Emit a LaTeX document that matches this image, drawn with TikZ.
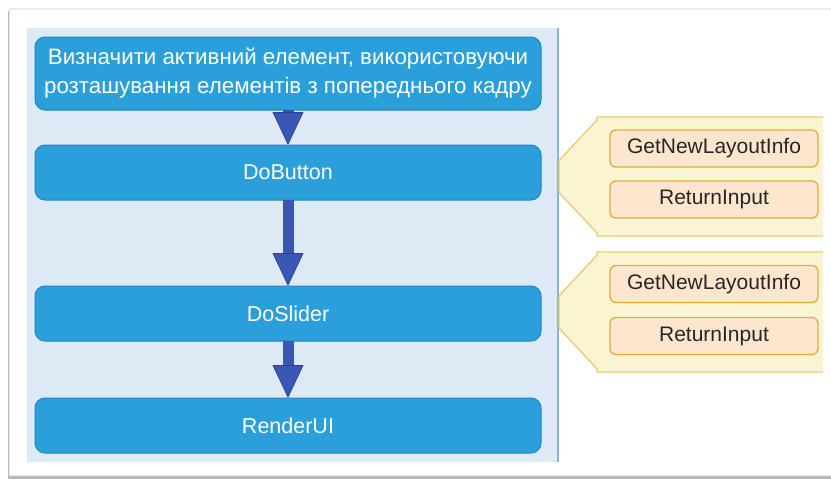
\documentclass[tikz,border=0pt]{standalone}
\usepackage{fontspec}
\setmainfont{Liberation Sans}
\usetikzlibrary{positioning,arrows.meta,calc}

\definecolor{boxblue}{HTML}{2A9FDA}
\definecolor{boxline}{HTML}{1F86C2}
\definecolor{panelbg}{HTML}{DEE9F6}
\definecolor{panelline}{HTML}{8FAEDA}
\definecolor{arrowblue}{HTML}{3A55B2}
\definecolor{arrowline}{HTML}{2E4499}
\definecolor{calloutbg}{HTML}{FBF4D2}
\definecolor{calloutline}{HTML}{E9CB74}
\definecolor{fnbg}{HTML}{FCE6CE}
\definecolor{fnline}{HTML}{E5AE33}

\tikzset{
  stepbox/.style={rectangle, rounded corners=10pt, draw=boxline, fill=boxblue, text=white,
    minimum width=506pt, minimum height=55pt, outer sep=0pt, align=center,
    font=\fontsize{21.5}{29}\selectfont, line width=1pt},
  fnbox/.style={rectangle, rounded corners=6pt, draw=fnline, fill=fnbg, text=black!85,
    minimum width=208pt, minimum height=37pt, outer sep=0pt,
    font=\fontsize{21}{24}\selectfont, line width=1.3pt},
  bigarrow/.style={draw=arrowblue, line width=11pt,
    -{Triangle[width=31pt,length=33pt,fill=arrowblue,color=arrowline,line width=0.8pt]}},
  callout/.style={fill=calloutbg, draw=calloutline, line width=1.3pt},
}

\begin{document}
\begin{tikzpicture}[x=1pt, y=-1pt]
\useasboundingbox (0,0) rectangle (831,480);
% frame and panel
\fill[black!28] (8,11) rectangle (845,479);
\fill[black!8] (9,8) rectangle (845,476);
\fill[white] (10,10) rectangle (845,475);
\fill[panelbg] (27,28) rectangle (558,462);
\draw[panelline, line width=1.2pt] (558,28) -- (558,462);

% steps
\node[stepbox, minimum height=73pt, font=\fontsize{22.3}{29}\selectfont] (ident) at (288,73.5) {Визначити активний елемент, використовуючи\\розташування елементів з попереднього кадру};
\node[stepbox, below=35pt of ident] (btn) {DoButton};
\node[stepbox, below=86pt of btn] (sld) {DoSlider};
\node[stepbox, below=57pt of sld] (rend) {RenderUI};

\draw[bigarrow] (ident) -- (btn);
\draw[bigarrow] (btn) -- (sld);
\draw[bigarrow] (sld) -- (rend);

% callouts (right side left open)
\filldraw[callout] let \p1=($(btn.north east)+(56pt,28pt)$), \p2=($(btn.south east)+(56pt,-36pt)$) in
  (823pt,\y1) -- (\x1,\y1) -- (\x1,\y1-3pt) -- (559pt,{(\y1+\y2)/2+16pt})
  -- (559pt,{(\y1+\y2)/2-16pt}) -- (\x1,\y2+3pt) -- (\x1,\y2) -- (823pt,\y2);
\filldraw[callout] let \p1=($(sld.north east)+(56pt,34pt)$), \p2=($(sld.south east)+(56pt,-31pt)$) in
  (823pt,\y1) -- (\x1,\y1) -- (\x1,\y1-3pt) -- (559pt,{(\y1+\y2)/2+16pt})
  -- (559pt,{(\y1+\y2)/2-16pt}) -- (\x1,\y2+3pt) -- (\x1,\y2) -- (823pt,\y2);

% calls made inside each widget
\node[fnbox, right=69pt of btn, yshift=24pt] (gl1) {GetNewLayoutInfo};
\node[fnbox, below=14pt of gl1] (ri1) {ReturnInput};
\node[fnbox, right=69pt of sld, yshift=29.5pt] (gl2) {GetNewLayoutInfo};
\node[fnbox, below=15pt of gl2] (ri2) {ReturnInput};
\end{tikzpicture}
\end{document}
